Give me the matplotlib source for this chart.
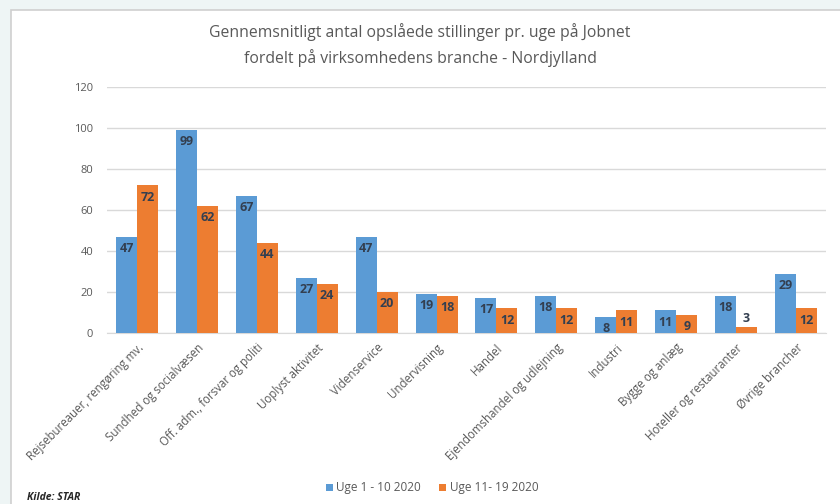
import matplotlib.pyplot as plt
import numpy as np
from matplotlib.patches import Rectangle

plt.rcParams['font.family'] = ['Open Sans', 'DejaVu Sans']

# data
categories = [
    "Rejsebureauer, rengøring mv.",
    "Sundhed og socialvæsen",
    "Off. adm., forsvar og politi",
    "Uoplyst aktivitet",
    "Videnservice",
    "Undervisning",
    "Handel",
    "Ejendomshandel og udlejning",
    "Industri",
    "Bygge og anlæg",
    "Hoteller og restauranter",
    "Øvrige brancher",
]
uge_1_10 = [47, 99, 67, 27, 47, 19, 17, 18, 8, 11, 18, 29]
uge_11_19 = [72, 62, 44, 24, 20, 18, 12, 12, 11, 9, 3, 12]
series_names = ["Uge 1 - 10 2020", "Uge 11- 19 2020"]
title = "Gennemsnitligt antal opslåede stillinger pr. uge på Jobnet\nfordelt på virksomhedens branche - Nordjylland"

blue = '#5B9BD5'
orange = '#ED7D31'

fig = plt.figure(figsize=(8.4, 5.04), dpi=100, facecolor='#eef5f5')
# white chart panel with thin gray frame
fig.patches.append(Rectangle((11/840, -0.01), 1.0, 1 - 9.5/504 + 0.01,
                             transform=fig.transFigure, facecolor='white',
                             edgecolor='#cfcfcf', linewidth=1.2, zorder=-5))

ax = fig.add_axes([107/840, 1 - 333/504, (826 - 107)/840, (333 - 87)/504])
ax.set_facecolor('white')

x = np.arange(len(categories))
w = 0.35
b1 = ax.bar(x - w/2, uge_1_10, w, color=blue, label=series_names[0], zorder=3)
b2 = ax.bar(x + w/2, uge_11_19, w, color=orange, label=series_names[1], zorder=3)

for bars, vals in ((b1, uge_1_10), (b2, uge_11_19)):
    for bar, v in zip(bars, vals):
        cx = bar.get_x() + bar.get_width() / 2
        if v >= 6:
            ax.text(cx, v - 2.6, str(v), ha='center', va='top', fontsize=9,
                    fontweight='bold', color='#333f50', zorder=4)
        else:
            ax.text(cx, v + 1.0, str(v), ha='center', va='bottom', fontsize=9,
                    fontweight='bold', color='#333f50', zorder=4)

ax.set_ylim(0, 120)
ax.set_yticks(range(0, 121, 20))
ax.set_xlim(-0.5, len(categories) - 0.5)
ax.grid(axis='y', color='#d9d9d9', linewidth=1, zorder=0)
for s in ['top', 'right', 'left']:
    ax.spines[s].set_visible(False)
ax.spines['bottom'].set_color('#d9d9d9')
ax.tick_params(axis='y', length=0, labelsize=8, labelcolor='#595959', pad=10)
ax.tick_params(axis='x', length=0, labelsize=8.3, labelcolor='#595959', pad=6)
ax.set_xticks(x)
ax.set_xticklabels(categories, rotation=45, ha='right', rotation_mode='anchor')

fig.text(0.5, 1 - 45/504, title, ha='center', va='center', fontsize=11.3,
         color='#595959', linespacing=1.6)

fig.legend(handles=[b1, b2], labels=series_names, loc='center',
           bbox_to_anchor=(432/840, 1 - 488/504), ncol=2, frameon=False,
           fontsize=8.5, handlelength=0.6, handleheight=0.6, handletextpad=0.3,
           columnspacing=1.5, labelcolor='#595959')

fig.text(27/840, 1 - 497/504, "Kilde: STAR", ha='left', va='center',
         fontsize=7.5, fontstyle='italic', fontweight='bold', color='#262626')

fig.savefig('out.png', dpi=100, facecolor=fig.get_facecolor())
